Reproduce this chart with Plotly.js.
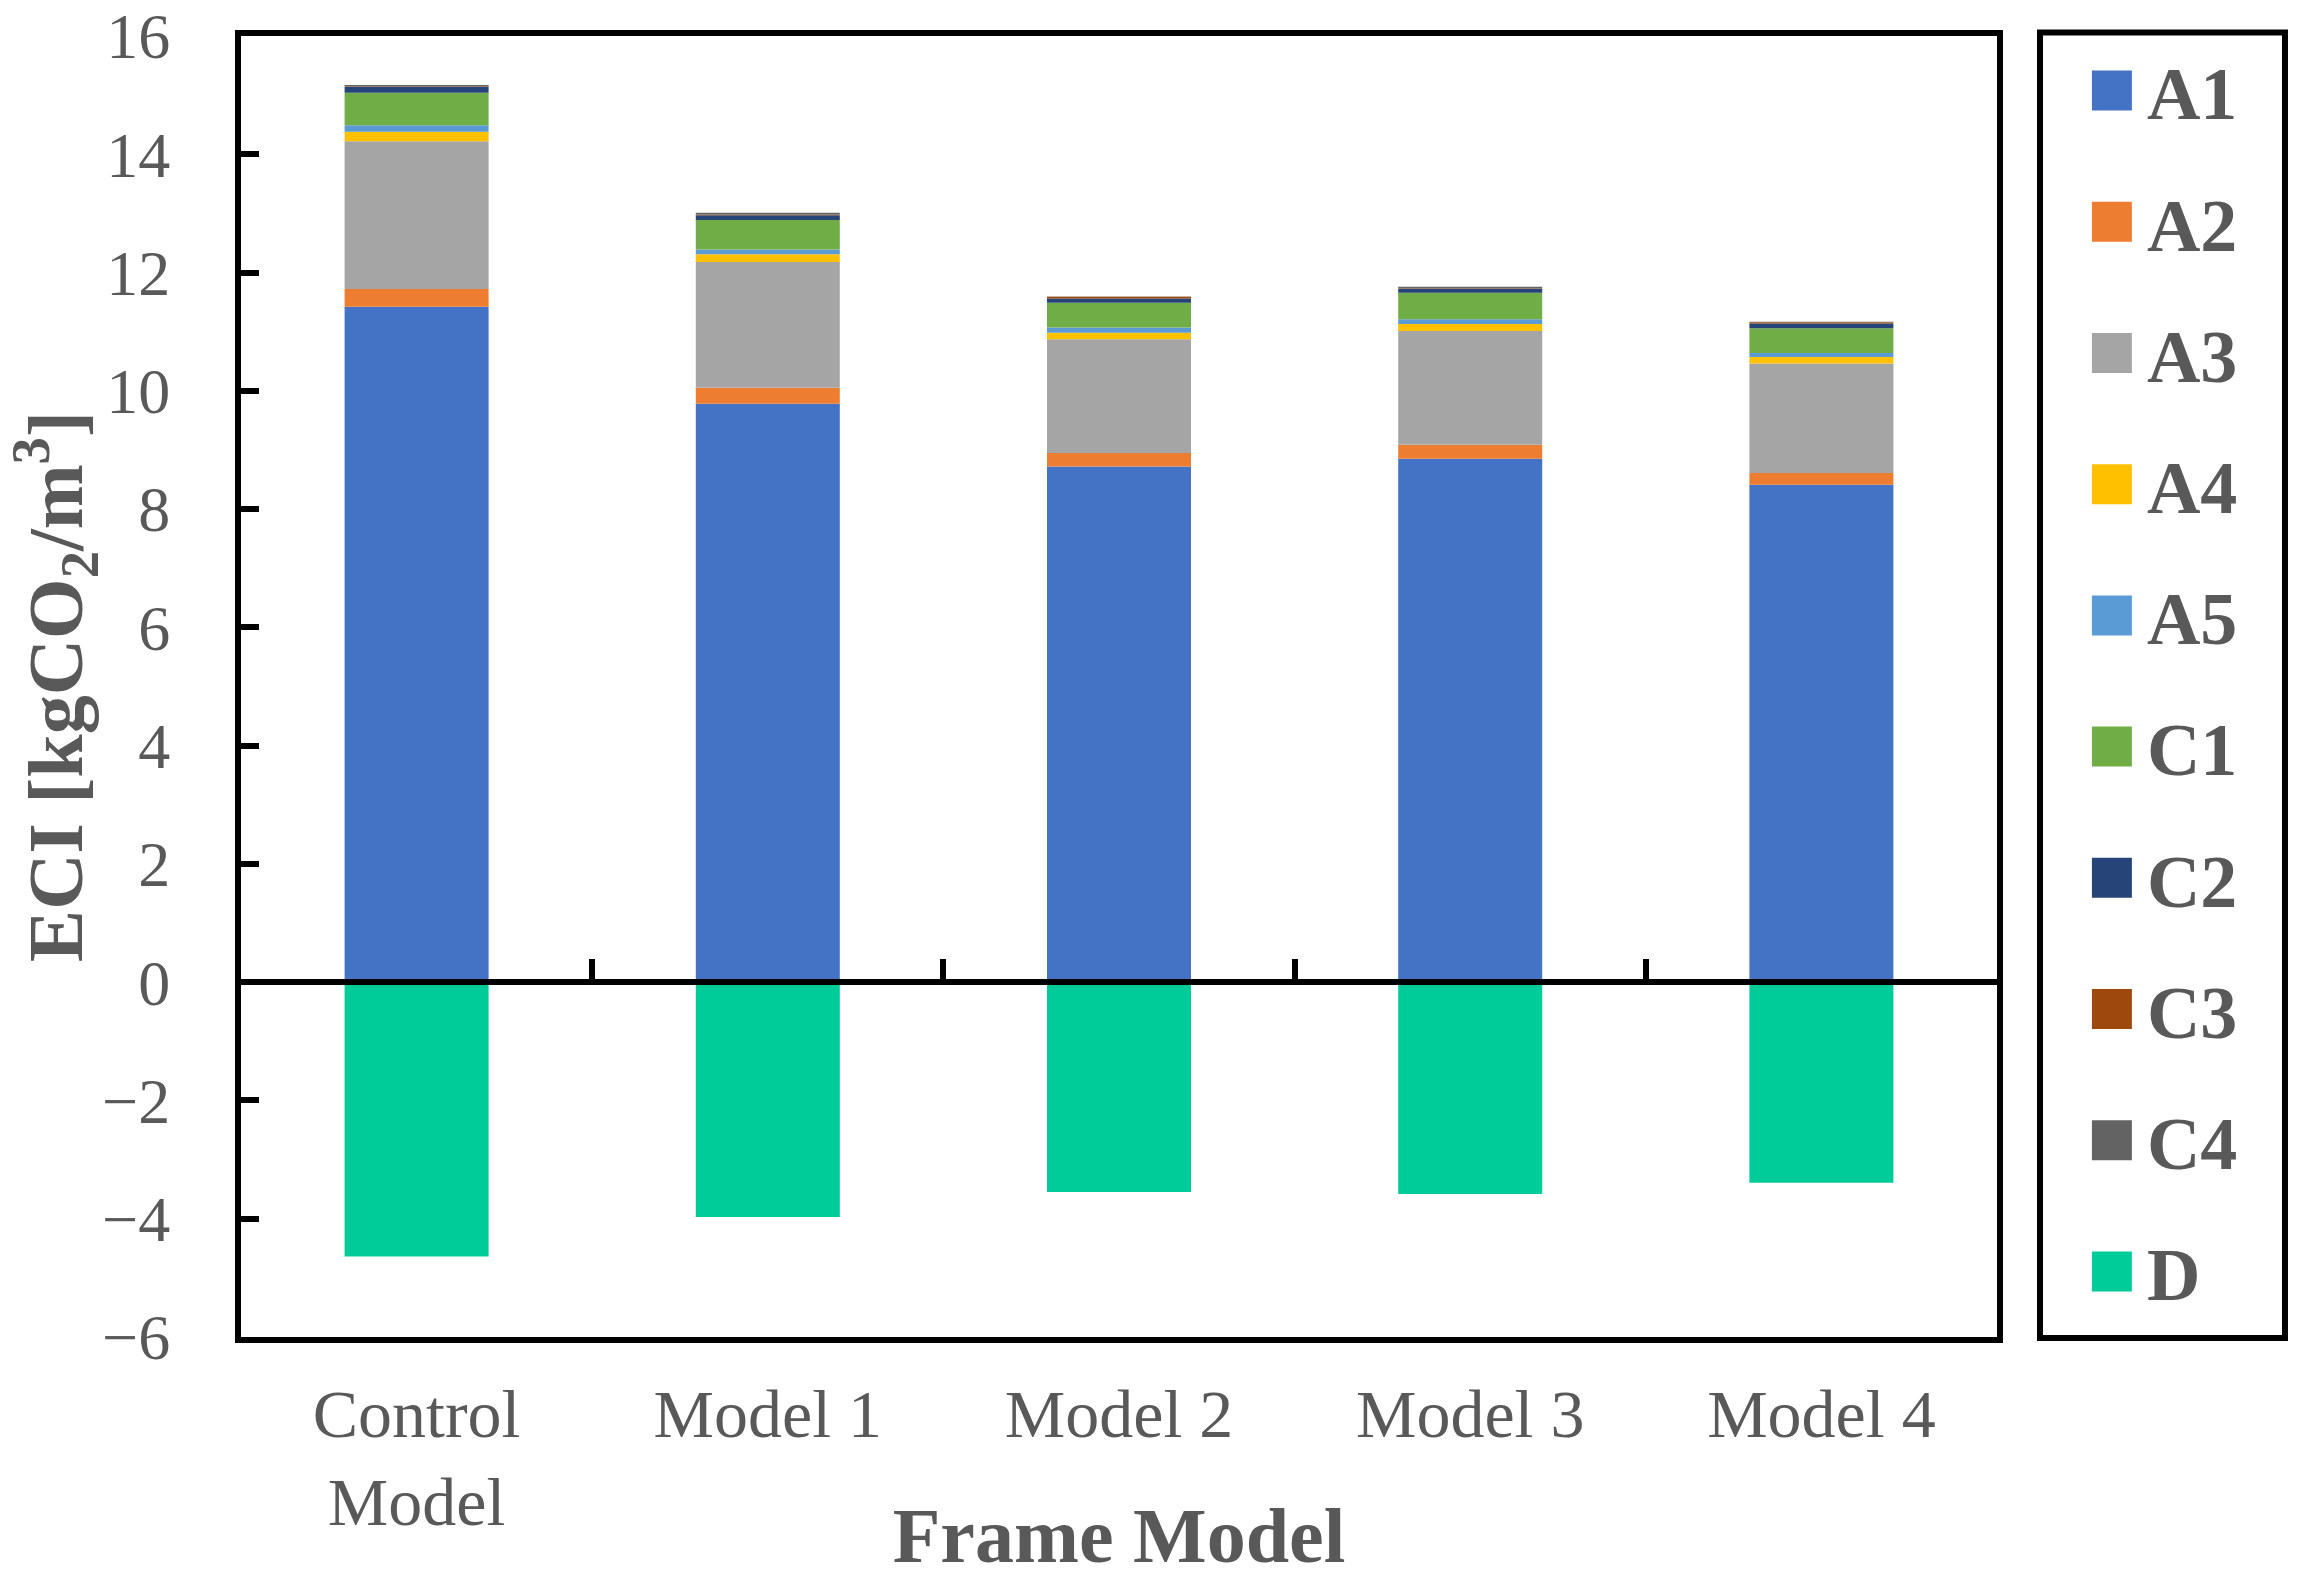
<!DOCTYPE html>
<html>
<head>
<meta charset="utf-8">
<script src="https://cdn.plot.ly/plotly-3.0.1.min.js"></script>
<style>html,body{margin:0;padding:0;background:#fff;}#chart{width:2297px;height:1579px;}</style>
</head>
<body>
<div id="chart"></div>
<script>
// Categories (frame models)
const categories = ["Control<br>Model", "Model 1", "Model 2", "Model 3", "Model 4"];

// Life-cycle stage series (ECI, kgCO2/m3)
const A1 = [11.42, 9.78, 8.72, 8.85, 8.41];
const A2 = [0.30, 0.27, 0.23, 0.24, 0.20];
const A3 = [2.50, 2.13, 1.92, 1.92, 1.85];
const A4 = [0.16, 0.13, 0.11, 0.12, 0.11];
const A5 = [0.11, 0.08, 0.09, 0.08, 0.07];
const C1 = [0.55, 0.50, 0.42, 0.45, 0.42];
const C2 = [0.10, 0.08, 0.07, 0.06, 0.08];
const C3 = [0.01, 0.01, 0.03, 0.01, 0.02];
const C4 = [0.02, 0.03, 0.005, 0.03, 0.01];
const D  = [-4.64, -3.97, -3.55, -3.58, -3.39];

const seriesNames = ["A1", "A2", "A3", "A4", "A5", "C1", "C2", "C3", "C4", "D"];
const seriesValues = [A1, A2, A3, A4, A5, C1, C2, C3, C4, D];
const seriesColors = ["#4472C4", "#ED7D31", "#A5A5A5", "#FFC000", "#5B9BD5",
                      "#70AD47", "#264478", "#9E480E", "#636363", "#00CC99"];

// Y tick values
const yTicks = [-6, -4, -2, 0, 2, 4, 6, 8, 10, 12, 14, 16];
// Category boundaries for the tick marks on the zero line
const boundaryTicks = [0.5, 1.5, 2.5, 3.5];

const serif = "Liberation Serif, Times New Roman, serif";
const grey = "#595959";

const traces = seriesNames.map((name, i) => ({
  type: "bar",
  name: name,
  x: categories,
  y: seriesValues[i],
  legendgroup: name,
  marker: { color: seriesColors[i], line: { width: 0 } },
  hoverinfo: "name+y"
}));

// invisible helper trace for the zero-line axis with boundary ticks
traces.push({
  type: "scatter", x: [-0.5, 4.5], y: [0, 0], xaxis: "x2", yaxis: "y",
  mode: "lines", line: { width: 0 }, showlegend: false, hoverinfo: "skip"
});

const layout = {
  width: 2297, height: 1579,
  margin: { l: 241, r: 300, t: 36, b: 242 },
  paper_bgcolor: "#fff", plot_bgcolor: "#fff",
  barmode: "relative",
  bargap: 0.59,
  showlegend: true,
  font: { family: serif, color: grey },
  xaxis: {
    type: "category",
    range: [-0.5, 4.5],
    showline: true, linecolor: "#000", linewidth: 6, mirror: true,
    ticks: "", showgrid: false, zeroline: false,
    tickfont: { family: serif, size: 68, color: grey },
    ticklabelstandoff: 12,
    title: { text: "<b>Frame Model</b>", font: { family: serif, size: 78, color: grey }, standoff: 22 },
    automargin: false
  },
  xaxis2: {
    overlaying: "x", anchor: "free", position: 6 / 22, side: "bottom",
    range: [-0.5, 4.5], showline: true, linecolor: "#000", linewidth: 6,
    tickmode: "array", tickvals: boundaryTicks, ticks: "inside", ticklen: 20, tickwidth: 6,
    tickcolor: "#000", showticklabels: false, showgrid: false, zeroline: false
  },
  yaxis: {
    range: [-6, 16], tickmode: "array", tickvals: yTicks,
    showline: true, linecolor: "#000", linewidth: 6, mirror: true,
    ticks: "inside", ticklen: 18, tickwidth: 6, tickcolor: "#000",
    showgrid: false, zeroline: false,
    tickfont: { family: serif, size: 64, color: grey },
    ticklabelstandoff: 52,
    ticklabeloverflow: "allow",
    title: { text: "<b>ECI [kgCO<sub>2</sub>/m<sup>3</sup>]</b>", font: { family: serif, size: 78, color: grey }, standoff: 28 },
    automargin: false
  },
  legend: {
    x: 1.0455, xanchor: "left", y: 1.0, yanchor: "top",
    traceorder: "grouped", tracegroupgap: 32,
    itemwidth: 60,
    font: { family: serif, size: 74, color: grey, weight: "bold" },
    bgcolor: "rgba(0,0,0,0)", borderwidth: 0
  },
  shapes: [{
    type: "rect", xref: "paper", yref: "paper",
    x0: 1.0245, x1: 1.1640, y0: -0.0008, y1: 1.0027,
    line: { color: "#000", width: 6 }, fillcolor: "rgba(0,0,0,0)", layer: "above"
  }]
};

Plotly.newPlot("chart", traces, layout, { displayModeBar: false, staticPlot: true }).then(gd => {
  gd.querySelectorAll(".legend .legendpoints path").forEach(p => {
    const t = p.getAttribute("transform") || "";
    p.setAttribute("transform", t + " scale(3.33)");
  });
});
</script>
</body>
</html>
